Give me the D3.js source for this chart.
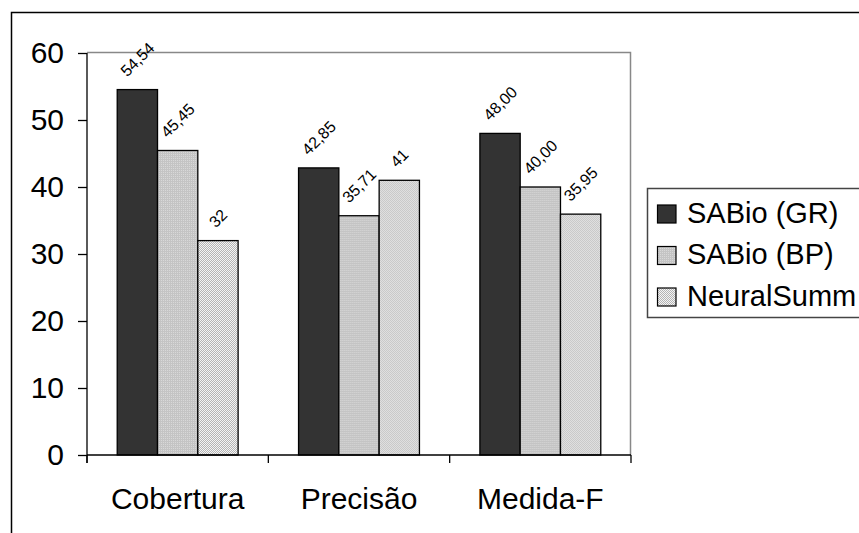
<!DOCTYPE html>
<html>
<head>
<meta charset="utf-8">
<script src="https://cdn.jsdelivr.net/npm/d3@7"></script>
<style>
  html, body { margin: 0; padding: 0; background: #fff; }
  svg { display: block; font-family: "Liberation Sans", Arial, sans-serif; }
</style>
</head>
<body>
<svg id="chart" width="859" height="533"></svg>
<script>
// Evaluation metrics per system
const categories = ["Cobertura", "Precisão", "Medida-F"];
const series = ["SABio (GR)", "SABio (BP)", "NeuralSumm"];
const sabioGR = [54.54, 42.85, 48.00];
const sabioBP = [45.45, 35.71, 40.00];
const neuralSumm = [32, 41, 35.95];
const valueLabels = [
  ["54,54", "42,85", "48,00"],
  ["45,45", "35,71", "40,00"],
  ["32", "41", "35,95"]
];
const yTicks = [0, 10, 20, 30, 40, 50, 60];

const seriesValues = [sabioGR, sabioBP, neuralSumm];

const svg = d3.select("#chart");
const defs = svg.append("defs");

// Fill patterns for the three series
const pBP = defs.append("pattern").attr("id", "fillBP")
  .attr("width", 2).attr("height", 2).attr("patternUnits", "userSpaceOnUse");
pBP.append("rect").attr("width", 2).attr("height", 2).attr("fill", "#c4c4c4");
pBP.append("rect").attr("width", 1).attr("height", 1).attr("fill", "#d8d8d8");

const pNS = defs.append("pattern").attr("id", "fillNS")
  .attr("width", 2).attr("height", 2).attr("patternUnits", "userSpaceOnUse");
pNS.append("rect").attr("width", 2).attr("height", 2).attr("fill", "#f4f4f4");
pNS.append("rect").attr("width", 1).attr("height", 1).attr("fill", "#b4b4b4");
pNS.append("rect").attr("x", 1).attr("y", 1).attr("width", 1).attr("height", 1).attr("fill", "#b4b4b4");

const fills = ["#333333", "url(#fillBP)", "url(#fillNS)"];

// Outer chart frame
svg.append("path")
  .attr("d", "M11.5,540 V12.5 H870")
  .attr("fill", "none").attr("stroke", "#000").attr("stroke-width", 1.5);

const plot = { left: 87, right: 631, top: 53, bottom: 455 };

const x = d3.scaleBand().domain(categories).range([plot.left, plot.right]).paddingInner(0).paddingOuter(0);
const xs = d3.scaleBand().domain(series).range([0, x.bandwidth()]).paddingInner(0).paddingOuter(0.75);
const y = d3.scaleLinear().domain([0, 60]).range([plot.bottom, plot.top]);

// Plot area border (top and right)
svg.append("path")
  .attr("d", `M${plot.left},${plot.top - 0.5} H${plot.right - 0.5} V${plot.bottom}`)
  .attr("fill", "none").attr("stroke", "#888").attr("stroke-width", 1.5);

// Bars
const groups = svg.append("g").selectAll("g")
  .data(categories).join("g")
  .attr("transform", d => `translate(${x(d)},0)`);

series.forEach((s, si) => {
  groups.append("rect")
    .attr("x", (d, ci) => xs(s))
    .attr("y", (d, ci) => y(seriesValues[si][ci]))
    .attr("width", xs.bandwidth())
    .attr("height", (d, ci) => y(0) - y(seriesValues[si][ci]))
    .attr("fill", fills[si])
    .attr("stroke", "#000").attr("stroke-width", 1.3);
});

// Value labels, rotated 45 degrees above each bar
const labelSize = 16;
series.forEach((s, si) => {
  groups.each(function(d, ci) {
    const g = d3.select(this);
    const cx = xs(s) + xs.bandwidth() / 2;
    const top = y(seriesValues[si][ci]);
    const t = g.append("text")
      .attr("font-size", labelSize)
      .attr("text-anchor", "middle")
      .attr("dy", "0.36em")
      .attr("fill", "#000")
      .text(valueLabels[si][ci]);
    const len = t.node().getComputedTextLength();
    const half = (len + labelSize * 0.72) * Math.SQRT1_2 / 2;
    const cy = top - 12 - half;
    t.attr("x", cx).attr("y", cy)
      .attr("transform", `rotate(-45,${cx},${cy})`);
  });
});

// Y axis
const yAxis = d3.axisLeft(y).tickValues(yTicks).tickSize(9).tickPadding(14).tickFormat(d3.format("d"));
const gy = svg.append("g").attr("transform", `translate(${plot.left},0)`).call(yAxis);
gy.select(".domain").attr("stroke", "#000").attr("stroke-width", 1.3)
  .attr("d", `M0,${plot.top}V${plot.bottom + 8}`);
gy.selectAll(".tick line").attr("stroke", "#000").attr("stroke-width", 1.3);
gy.selectAll(".tick text").attr("font-size", 30).attr("fill", "#000")
  .attr("font-family", "Liberation Sans, Arial, sans-serif");

// X axis: ticks mark the category boundaries
const gx = svg.append("g").attr("transform", `translate(0,${plot.bottom})`);
gx.append("line").attr("x1", plot.left).attr("x2", plot.right)
  .attr("stroke", "#000").attr("stroke-width", 1.5);
const bounds = categories.map(c => x(c)).concat([plot.right]);
gx.selectAll("line.tick").data(bounds).join("line").attr("class", "tick")
  .attr("x1", d => d).attr("x2", d => d).attr("y1", 0).attr("y2", 8)
  .attr("stroke", "#000").attr("stroke-width", 1.3);
gx.selectAll("text").data(categories).join("text")
  .attr("x", d => x(d) + x.bandwidth() / 2)
  .attr("y", 54)
  .attr("text-anchor", "middle")
  .attr("font-size", 30)
  .attr("fill", "#000")
  .text(d => d);

// Legend
const legend = svg.append("g");
legend.append("rect")
  .attr("x", 647.5).attr("y", 188.5).attr("width", 260).attr("height", 129)
  .attr("fill", "#fff").attr("stroke", "#444").attr("stroke-width", 1.5);
const rowY = d3.scalePoint().domain(series).range([222.5, 305.5]);
series.forEach((s, si) => {
  legend.append("rect")
    .attr("x", 657.5).attr("y", rowY(s) - 17.5).attr("width", 18.5).attr("height", 18)
    .attr("fill", fills[si]).attr("stroke", "#000").attr("stroke-width", 1.2);
  legend.append("text")
    .attr("x", 687).attr("y", rowY(s))
    .attr("font-size", 29).attr("fill", "#000")
    .text(s);
});
</script>
</body>
</html>
